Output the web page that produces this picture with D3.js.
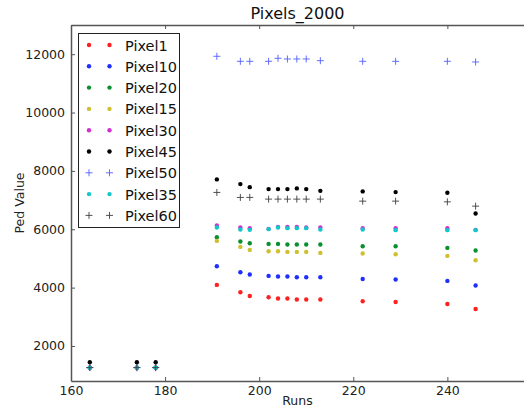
<!DOCTYPE html>
<html>
<head>
<meta charset="utf-8">
<script src="https://cdn.jsdelivr.net/npm/d3@7"></script>
<style>
  body { margin: 0; background: #fff; }
  svg { display: block; font-family: "DejaVu Sans", sans-serif; }
</style>
</head>
<body>
<svg id="chart" width="524" height="408"></svg>
<script>
// data
var runs = [164, 174, 178, 191, 196, 198, 202, 204, 206, 208, 210, 213, 222, 229, 240, 246];
var pixel1  = [1260, 1260, 1260, 4093, 3842, 3715, 3671, 3626, 3626, 3592, 3592, 3592, 3533, 3509, 3441, 3269];
var pixel10 = [1260, 1260, 1260, 4734, 4528, 4449, 4401, 4381, 4381, 4357, 4357, 4357, 4298, 4278, 4230, 4072];
var pixel20 = [1260, 1260, 1260, 5729, 5581, 5523, 5499, 5499, 5478, 5478, 5478, 5478, 5420, 5420, 5362, 5273];
var pixel15 = [1260, 1260, 1260, 5602, 5396, 5293, 5249, 5249, 5225, 5225, 5225, 5190, 5170, 5146, 5087, 4940];
var pixel30 = [1260, 1260, 1260, 6130, 6062, 6038, 6014, 6082, 6082, 6082, 6062, 6062, 6038, 6038, 6038, 5980];
var pixel45 = [1441, 1441, 1441, 7708, 7547, 7444, 7376, 7376, 7376, 7400, 7376, 7317, 7297, 7273, 7249, 6542];
var pixel50 = [1260, 1260, 1260, 11928, 11756, 11756, 11756, 11859, 11835, 11835, 11835, 11777, 11756, 11756, 11756, 11733];
var pixel35 = [1260, 1260, 1260, 6062, 5993, 5980, 6003, 6062, 6038, 6038, 6038, 5993, 5993, 5969, 5969, 5969];
var pixel60 = [1259, 1259, 1259, 7262, 7091, 7091, 7033, 7033, 7033, 7033, 7033, 7033, 6964, 6964, 6940, 6792];

var seriesNames = ['Pixel1', 'Pixel10', 'Pixel20', 'Pixel15', 'Pixel30', 'Pixel45', 'Pixel50', 'Pixel35', 'Pixel60'];
var seriesValues = [pixel1, pixel10, pixel20, pixel15, pixel30, pixel45, pixel50, pixel35, pixel60];
var seriesColors = ['#ff2020', '#1f2fff', '#0a9030', '#cfc030', '#cf30cf', '#000000', '#5060ff', '#10c8c8', '#404040'];
var seriesMarkers = ['dot', 'dot', 'dot', 'dot', 'dot', 'dot', 'plus', 'dot', 'plus'];

var xTicks = [160, 180, 200, 220, 240];
var yTicks = [2000, 4000, 6000, 8000, 10000, 12000];

// plot box (right edge runs off the picture)
var boxLeft = 71, boxTop = 25, boxRight = 525, boxBottom = 381;

var svg = d3.select('#chart');

var x = d3.scaleLinear().domain([160, 256.5]).range([boxLeft, boxRight]);
var y = d3.scaleLinear().domain([800, 13000]).range([boxBottom, boxTop]);

// draw one marker
function marker(g, kind, color, px, py) {
    if (kind == 'dot') {
        g.append('circle')
          .attr('cx', px)
          .attr('cy', py)
          .attr('r', 2.2)
          .attr('fill', color);
    } else {
        g.append('path')
          .attr('d', 'M' + (px - 3.5) + ',' + py + 'H' + (px + 3.5) + 'M' + px + ',' + (py - 3.5) + 'V' + (py + 3.5))
          .attr('stroke', color)
          .attr('stroke-width', 0.9)
          .attr('fill', 'none');
    }
}

// points
var plot = svg.append('g');
seriesValues.forEach(function(vals, i) {
    var g = plot.append('g');
    vals.forEach(function(v, j) {
        marker(g, seriesMarkers[i], seriesColors[i], x(runs[j]), y(v));
    });
});

// axes, ticks inside like classic matplotlib
var xAxis = svg.append('g')
  .attr('transform', 'translate(0,' + boxBottom + ')')
  .call(d3.axisBottom(x).tickValues(xTicks).tickSizeInner(-4).tickSizeOuter(0).tickPadding(6));
var xTop = svg.append('g')
  .attr('transform', 'translate(0,' + boxTop + ')')
  .call(d3.axisTop(x).tickValues(xTicks).tickSizeInner(-4).tickSizeOuter(0).tickFormat(''));
var yAxis = svg.append('g')
  .attr('transform', 'translate(' + boxLeft + ',0)')
  .call(d3.axisLeft(y).tickValues(yTicks).tickSizeInner(-4).tickSizeOuter(0).tickPadding(6).tickFormat(d3.format('d')));

[xAxis, xTop, yAxis].forEach(function(a) {
    a.select('.domain').attr('stroke', '#555').attr('stroke-width', 1.5);
    a.selectAll('.tick line').attr('stroke', '#555');
    a.selectAll('.tick text').attr('font-size', 12.5).attr('fill', '#222').attr('font-family', '"DejaVu Sans", sans-serif');
});
xAxis.selectAll('.tick text').attr('dy', '0.6em');

// titles
svg.append('text')
  .attr('x', (boxLeft + 524) / 2)
  .attr('y', 19)
  .attr('text-anchor', 'middle')
  .attr('font-size', 16)
  .attr('fill', '#111')
  .text('Pixels_2000');

svg.append('text')
  .attr('x', (boxLeft + 524) / 2)
  .attr('y', 405)
  .attr('text-anchor', 'middle')
  .attr('font-size', 12.5)
  .attr('fill', '#222')
  .text('Runs');

svg.append('text')
  .attr('transform', 'translate(24,' + ((boxTop + boxBottom) / 2) + ') rotate(-90)')
  .attr('text-anchor', 'middle')
  .attr('font-size', 12.5)
  .attr('fill', '#222')
  .text('Ped Value');

// legend
var legend = svg.append('g');
legend.append('rect')
  .attr('x', 78.5)
  .attr('y', 33.5)
  .attr('width', 101)
  .attr('height', 194)
  .attr('fill', '#fff')
  .attr('stroke', '#222')
  .attr('stroke-width', 1);

seriesNames.forEach(function(name, i) {
    var ly = 45 + i * 21.3;
    marker(legend, seriesMarkers[i], seriesColors[i], 89, ly);
    marker(legend, seriesMarkers[i], seriesColors[i], 109.5, ly);
    legend.append('text')
      .attr('x', 125)
      .attr('y', ly + 5.5)
      .attr('font-size', 14.5)
      .attr('fill', '#111')
      .text(name);
});
</script>
</body>
</html>
